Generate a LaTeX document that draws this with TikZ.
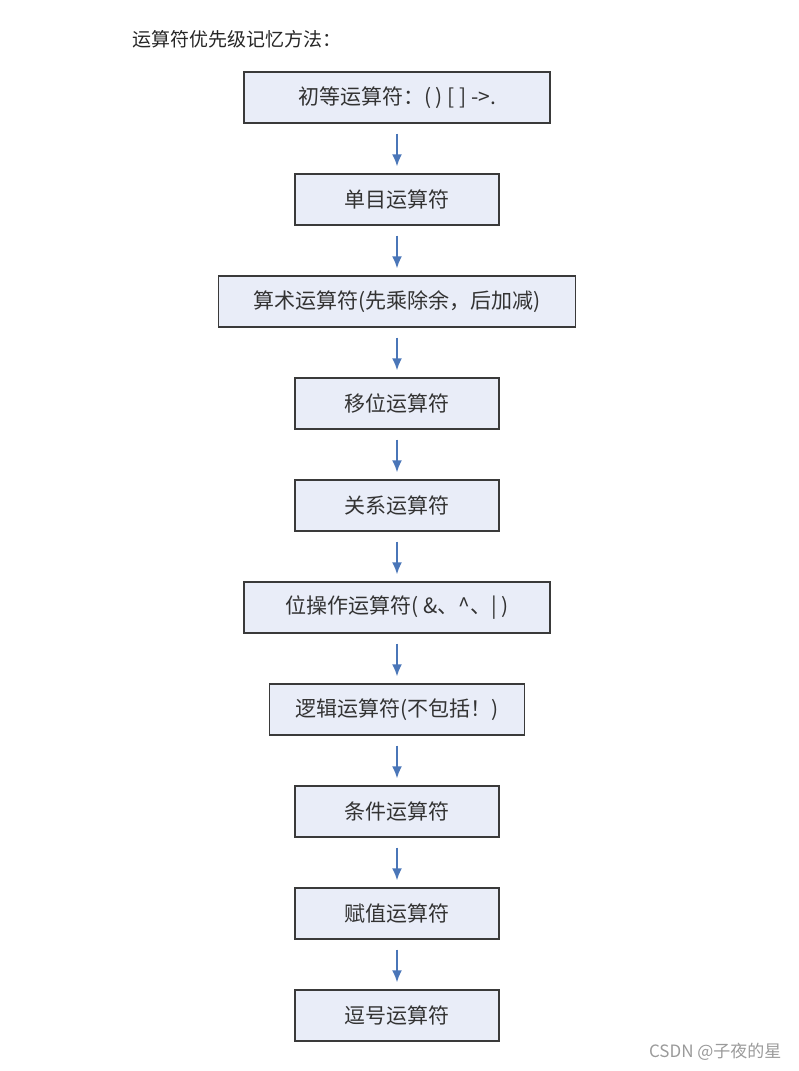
\documentclass[tikz,border=0pt]{standalone}
\usepackage{fontspec}
\usepackage{xcolor}
\setmainfont{Noto Sans CJK SC}
\usetikzlibrary{arrows.meta}
\usetikzlibrary{positioning}
\definecolor{BoxFill}{HTML}{E9EDF8}
\definecolor{BoxLine}{HTML}{3A3A3A}
\definecolor{FlowBlue}{HTML}{4A76B8}
\definecolor{MarkGray}{HTML}{9A9A9A}

\begin{document}
\begin{tikzpicture}[x=1pt, y=1pt, node distance=49.6pt,
  box/.style={draw=BoxLine, fill=BoxFill, line width=1.4pt, minimum height=51pt,
    inner sep=0pt, font=\fontsize{21}{21}\selectfont, text=black!80},
  flow/.style={-{Latex[length=12pt,width=10pt]}, line width=1.8pt, FlowBlue,
    shorten <=10pt, shorten >=7pt}]
  \useasboundingbox (0,0) rectangle (799,-1071);

  \node [anchor=west, font=\fontsize{19}{19}\selectfont, text=black!85] (Title)
    at (129,-39) {运算符优先级记忆方法：};

  \node [box, minimum width=306pt] (Primary) at (397,-97.5)
    {初等运算符：( ) [ ] ->.};
  \node [box, minimum width=204pt, below=of Primary] (Unary) {单目运算符};
  \node [box, minimum width=357pt, below=of Unary] (Arith)
    {算术运算符(先乘除余，后加减)};
  \node [box, minimum width=204pt, below=of Arith] (Shift) {移位运算符};
  \node [box, minimum width=204pt, below=of Shift] (Rel) {关系运算符};
  \node [box, minimum width=306pt, below=of Rel] (Bit)
    {位操作运算符( \&、\textasciicircum、| )};
  \node [box, minimum width=255pt, below=of Bit] (Logic)
    {逻辑运算符(不包括！)};
  \node [box, minimum width=204pt, below=of Logic] (Cond) {条件运算符};
  \node [box, minimum width=204pt, below=of Cond] (Assign) {赋值运算符};
  \node [box, minimum width=204pt, below=of Assign] (Comma) {逗号运算符};

  \foreach \a/\b in {Primary/Unary, Unary/Arith, Arith/Shift, Shift/Rel, Rel/Bit,
    Bit/Logic, Logic/Cond, Cond/Assign, Assign/Comma}{%
    \draw [flow] (\a.south) -- (\b.north);
  }

  \node [anchor=east, font=\fontsize{17}{17}\selectfont, text=MarkGray] (Mark)
    at (785,-1052) {CSDN @子夜的星};
\end{tikzpicture}
\end{document}
